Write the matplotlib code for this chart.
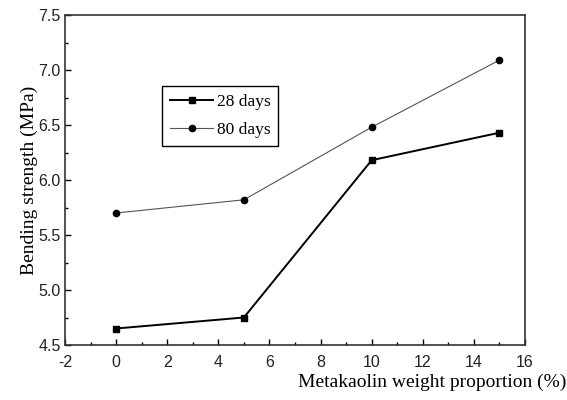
import matplotlib
matplotlib.use('Agg')
import matplotlib.pyplot as plt
from matplotlib.ticker import MultipleLocator

plt.rcParams['axes.unicode_minus'] = False

# Bending strength vs metakaolin content at two curing ages
proporcion = [0, 5, 10, 15]
dias_28 = [4.65, 4.75, 6.18, 6.43]
dias_80 = [5.70, 5.82, 6.48, 7.09]

fig = plt.figure(figsize=(5.67, 4.0), dpi=100)
ax = fig.add_axes([65 / 567, 55 / 400, 460 / 567, 330 / 400])

ax.plot(proporcion, dias_28, color='black', linewidth=1.4, marker='s',
        markersize=5, label='28 days')
ax.plot(proporcion, dias_80, color='#555555', linewidth=0.8, marker='o',
        markersize=4.5, markerfacecolor='black', markeredgecolor='black',
        label='80 days')

ax.set_xlim(-2, 16)
ax.set_ylim(4.5, 7.5)
ax.xaxis.set_major_locator(MultipleLocator(2))
ax.xaxis.set_minor_locator(MultipleLocator(1))
ax.yaxis.set_major_locator(MultipleLocator(0.5))
ax.yaxis.set_minor_locator(MultipleLocator(0.25))
ax.tick_params(which='both', direction='in', top=False, right=False)
ax.tick_params(which='major', length=4, width=1, labelsize=11.5)
ax.tick_params(axis='x', which='major', pad=7)
ax.tick_params(axis='y', which='major', pad=3)
ax.tick_params(which='minor', length=2.5, width=1)
for lab in ax.get_xticklabels() + ax.get_yticklabels():
    lab.set_family('Liberation Sans')
    lab.set_color('#222222')
for sp in ax.spines.values():
    sp.set_linewidth(1.2)
    sp.set_color('#333333')

ax.set_ylabel('Bending strength (MPa)', family='Liberation Serif', fontsize=14,
              labelpad=0)
fig.text(566 / 567, 1 - 382 / 400, 'Metakaolin weight proportion (%)',
         family='Liberation Serif', fontsize=14, ha='right', va='center')

leg = ax.legend(loc='upper left', bbox_to_anchor=(0.211, 0.785), frameon=True,
                fancybox=False, edgecolor='black', framealpha=1,
                prop={'family': 'Liberation Serif', 'size': 12.5},
                handlelength=2.5, borderpad=0.45, labelspacing=0.7,
                handletextpad=0.2, borderaxespad=0)
leg.get_frame().set_linewidth(1.0)

fig.savefig('out.png', dpi=100)
